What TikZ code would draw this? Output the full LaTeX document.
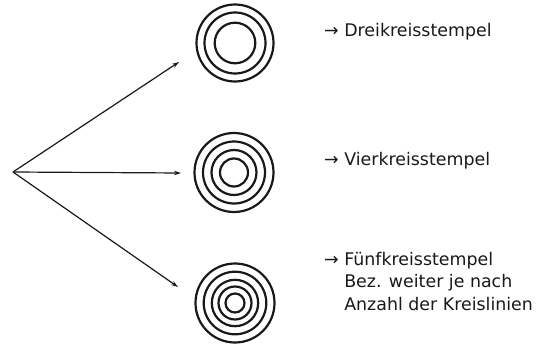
\documentclass[tikz,border=0pt]{standalone}
\usepackage{fontspec}
\setmainfont{DejaVu Sans}
\usetikzlibrary{arrows.meta}
\tikzset{
  ring/.style={draw=black!90, line width=2.2pt},
  ray/.style={draw=black!90, line width=1.2pt, -{Stealth[length=7pt,width=4.5pt]}},
  lbl/.style={anchor=base west, inner sep=0pt, align=left, font=\fontsize{17.4}{22.5}\selectfont, text=black!90}
}
\begin{document}
\begin{tikzpicture}[x=1pt,y=-1pt]
\useasboundingbox (0,0) rectangle (550,359);
% centres of the stamps
\coordinate (c3) at (235,43);
\coordinate (c4) at (234,172.5);
\coordinate (c5) at (235,303);
% three circles
\foreach \r in {38.5,30.5,20.3} \draw[ring] (c3) circle[radius=\r];
% four circles
\foreach \r in {39.5,31,22.5,14} \draw[ring] (c4) circle[radius=\r];
% five circles
\foreach \r in {39.5,31.3,23.2,16.5,9.5} \draw[ring] (c5) circle[radius=\r];
% rays
\coordinate (o) at (13,172);
\coordinate (e3) at (179,62);
\coordinate (e4) at (181,173);
\coordinate (e5) at (178,287);
\draw[ray] (o) -- (e3);
\draw[ray] (o) -- (e4);
\draw[ray] (o) -- (e5);
% labels
\node[lbl] (t3) at (324,36) {→ Dreikreisstempel};
\node[lbl] (t4) at (324,165) {→ Vierkreisstempel};
\node[lbl] (t5) at (324,310) {→ Fünfkreisstempel\\\hphantom{→ }Bez. weiter je nach\\\hphantom{→ }Anzahl der Kreislinien};
\end{tikzpicture}
\end{document}
